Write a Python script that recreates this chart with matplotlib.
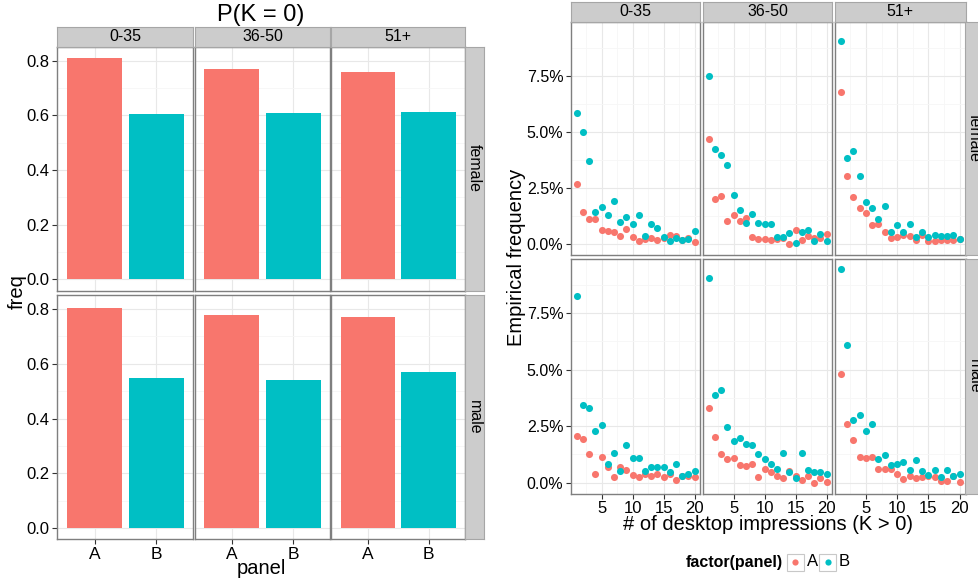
"""
plot.py

Nachbau der Facetten-Grafik:
  links:  P(K = 0) je Panel (A/B), Altersgruppe x Geschlecht
  rechts: empirische Haeufigkeit der Desktop-Impressions (K > 0)

Output: out.png
"""

import matplotlib
matplotlib.use("Agg")
import matplotlib.pyplot as plt
import matplotlib.ticker as mticker
from matplotlib.patches import Rectangle

plt.rcParams["font.family"] = ["Liberation Sans", "DejaVu Sans"]

W, H = 979, 582

# ── Daten ──────────────────────────────────────────────────────────────────────

AGE_GROUPS = ["0-35", "36-50", "51+"]
GENDERS    = ["female", "male"]
PANELS     = ["A", "B"]

# P(K = 0), je Altersgruppe [A, B]
p0_female = [[0.811, 0.605], [0.770, 0.609], [0.760, 0.613]]
p0_male   = [[0.804, 0.547], [0.778, 0.539], [0.771, 0.569]]

K = list(range(1, 21))

# Empirische Haeufigkeit in %, K = 1..20
A_female_035  = [2.69, 1.43, 1.14, 1.12, 0.64, 0.58, 0.56, 0.37, 0.68, 0.31,
                 0.15, 0.24, 0.28, 0.21, 0.30, 0.40, 0.37, 0.20, 0.27, 0.12]
B_female_035  = [5.83, 5.00, 3.73, 1.43, 1.66, 1.30, 1.91, 0.98, 1.24, 0.92,
                 1.30, 0.36, 0.89, 0.72, 0.33, 0.16, 0.27, 0.19, 0.22, 0.59]
A_female_3650 = [4.67, 2.04, 2.13, 1.02, 1.30, 1.02, 1.17, 0.31, 0.22, 0.22,
                 0.19, 0.25, 0.30, 0.01, 0.64, 0.18, 0.37, 0.27, 0.27, 0.46]
B_female_3650 = [7.47, 4.23, 3.98, 3.52, 2.20, 1.51, 0.93, 1.33, 0.93, 0.89,
                 0.90, 0.34, 0.31, 0.49, 0.06, 0.55, 0.62, 0.15, 0.44, 0.15]
A_female_51   = [6.78, 3.03, 2.10, 1.61, 1.38, 0.86, 0.92, 0.55, 0.28, 0.31,
                 0.40, 0.37, 0.19, 0.40, 0.15, 0.16, 0.20, 0.19, 0.19, 0.25]
B_female_51   = [9.04, 3.83, 4.14, 3.02, 1.88, 1.61, 1.15, 1.69, 0.55, 0.86,
                 0.53, 0.92, 0.31, 0.56, 0.33, 0.41, 0.37, 0.37, 0.41, 0.24]
A_male_035    = [2.06, 1.94, 1.25, 0.40, 1.12, 0.71, 0.27, 0.71, 0.55, 0.35,
                 0.24, 0.41, 0.28, 0.41, 0.24, 0.37, 0.13, 0.31, 0.32, 0.25]
B_male_035    = [8.26, 3.42, 3.29, 2.27, 2.55, 0.81, 1.30, 0.50, 1.65, 1.08,
                 1.08, 0.53, 0.72, 0.69, 0.69, 0.47, 0.81, 0.32, 0.40, 0.52]
A_male_3650   = [3.30, 2.03, 1.27, 1.05, 1.10, 0.77, 0.75, 0.85, 0.24, 0.63,
                 0.46, 0.32, 0.21, 0.53, 0.32, 0.13, 0.29, 0.01, 0.22, 0.04]
B_male_3650   = [9.05, 3.89, 4.08, 2.47, 1.84, 2.00, 1.71, 1.65, 1.28, 1.03,
                 0.81, 0.62, 1.30, 0.46, 0.21, 1.30, 0.55, 0.47, 0.47, 0.40]
A_male_51     = [4.82, 2.59, 1.90, 1.16, 1.10, 1.15, 0.62, 0.63, 0.59, 0.41,
                 0.16, 0.31, 0.22, 0.24, 0.28, 0.24, 0.10, 0.06, 0.28, 0.04]
B_male_51     = [9.43, 6.10, 2.78, 3.01, 2.27, 2.59, 1.05, 1.21, 0.77, 0.83,
                 0.93, 0.55, 1.02, 0.53, 0.35, 0.57, 0.24, 0.55, 0.31, 0.40]

P0 = {"female": p0_female, "male": p0_male}
EMP = {
    "female": [(A_female_035, B_female_035), (A_female_3650, B_female_3650),
               (A_female_51, B_female_51)],
    "male":   [(A_male_035, B_male_035), (A_male_3650, B_male_3650),
               (A_male_51, B_male_51)],
}

COL_A = "#F8766D"
COL_B = "#00BFC4"

# ── Helfer ─────────────────────────────────────────────────────────────────────

fig = plt.figure(figsize=(W / 100, H / 100), dpi=100)


def px_ax(x0, y0, x1, y1):
    return fig.add_axes([x0 / W, 1 - y1 / H, (x1 - x0) / W, (y1 - y0) / H])


def fig_text(x, y, s, **kw):
    fig.text(x / W, 1 - y / H, s, ha="center", va="center", **kw)


def style_panel(ax):
    ax.set_facecolor("white")
    for s in ax.spines.values():
        s.set_color("#7f7f7f")
        s.set_linewidth(1.0)
    ax.grid(which="major", color="#e8e8e8", linewidth=0.8)
    ax.grid(which="minor", color="#f6f6f6", linewidth=0.6)
    ax.set_axisbelow(True)
    ax.tick_params(which="major", length=3.5, width=0.8, color="#333333",
                   labelsize=11.5, pad=2, labelcolor="black")
    ax.tick_params(which="minor", length=0)


def strip(x0, y0, x1, y1, label, rot=0):
    ax = px_ax(x0, y0, x1, y1)
    ax.set_facecolor("#cccccc")
    ax.set_xticks([])
    ax.set_yticks([])
    for s in ax.spines.values():
        s.set_color("#a6a6a6")
        s.set_linewidth(0.8)
    ax.text(0.5, 0.5, label, transform=ax.transAxes, ha="center", va="center",
            rotation=rot, fontsize=11.5)
    return ax


# ── Links: P(K = 0) ────────────────────────────────────────────────────────────

L_COLS = [(57.5, 193.5), (195, 330), (331.5, 465)]
L_ROWS = [(46.5, 290.5), (295, 539)]

ymax_l = max(max(max(v) for v in P0[g]) for g in GENDERS)
ylim_l = (-0.05 * ymax_l, 1.05 * ymax_l)

for r, g in enumerate(GENDERS):
    for c, age in enumerate(AGE_GROUPS):
        x0, x1 = L_COLS[c]
        y0, y1 = L_ROWS[r]
        ax = px_ax(x0, y0, x1, y1)
        style_panel(ax)
        ax.bar(range(len(PANELS)), P0[g][c], width=0.9, color=[COL_A, COL_B])
        ax.set_xlim(-0.6, 1.6)
        ax.set_ylim(*ylim_l)
        ax.set_xticks(range(len(PANELS)))
        ax.yaxis.set_major_locator(mticker.MultipleLocator(0.2))
        ax.yaxis.set_minor_locator(mticker.MultipleLocator(0.1))
        ax.yaxis.set_major_formatter(mticker.FormatStrFormatter("%.1f"))
        ax.tick_params(axis="y", labelsize=12)
        if r == len(GENDERS) - 1:
            ax.set_xticklabels(PANELS, fontsize=12.5)
        else:
            ax.tick_params(axis="x", labelbottom=False, length=0)
        if c != 0:
            ax.tick_params(axis="y", labelleft=False, length=0)
        if r == 0:
            strip(x0, 27, x1, y0, age)
    strip(465, L_ROWS[r][0], 484.5, L_ROWS[r][1], g, rot=-90)

fig_text(261, 15, "P(K = 0)", fontsize=17)
fig_text(261, 569, "panel", fontsize=14.5)
fig_text(17, 292, "freq", fontsize=14.5, rotation=90)

# ── Rechts: empirische Haeufigkeit ─────────────────────────────────────────────

R_COLS = [(571, 700.5), (703, 832.5), (835, 965.5)]
R_ROWS = [(21.7, 255), (258.5, 493.5)]

ymax_r = max(max(max(a), max(b)) for g in GENDERS for a, b in EMP[g])
ylim_r = (-0.05 * ymax_r, 1.05 * ymax_r)
xlim_r = (1 - 0.05 * 19, 20 + 0.05 * 19)

for r, g in enumerate(GENDERS):
    for c, age in enumerate(AGE_GROUPS):
        x0, x1 = R_COLS[c]
        y0, y1 = R_ROWS[r]
        ax = px_ax(x0, y0, x1, y1)
        style_panel(ax)
        a_vals, b_vals = EMP[g][c]
        ax.scatter(K, a_vals, s=26, color=COL_A, linewidths=0, zorder=3)
        ax.scatter(K, b_vals, s=26, color=COL_B, linewidths=0, zorder=3)
        ax.set_xlim(*xlim_r)
        ax.set_ylim(*ylim_r)
        ax.set_xticks([5, 10, 15, 20])
        ax.xaxis.set_minor_locator(mticker.FixedLocator([2.5, 7.5, 12.5, 17.5]))
        ax.set_yticks([0, 2.5, 5, 7.5])
        ax.yaxis.set_minor_locator(mticker.FixedLocator([1.25, 3.75, 6.25, 8.75]))
        ax.yaxis.set_major_formatter(mticker.FuncFormatter(lambda v, p: f"{v:.1f}%"))
        if r == len(GENDERS) - 1:
            ax.tick_params(axis="x", labelsize=12)
        else:
            ax.tick_params(axis="x", labelbottom=False, length=0)
        if c != 0:
            ax.tick_params(axis="y", labelleft=False, length=0)
        if r == 0:
            strip(x0, 1.7, x1, y0, age)
    # Streifen rechts ist im Original am Bildrand abgeschnitten
    strip(965.5, R_ROWS[r][0], 984, R_ROWS[r][1], g, rot=-90)

fig_text(768, 524, "# of desktop impressions (K > 0)", fontsize=14.5)
fig_text(516, 257, "Empirical frequency", fontsize=14.5, rotation=90)

# ── Legende ────────────────────────────────────────────────────────────────────

leg = fig.add_axes([0, 0, 1, 1])
leg.set_xlim(0, W)
leg.set_ylim(H, 0)
leg.axis("off")
leg.patch.set_alpha(0)
leg.text(783, 562, "factor(panel)", ha="right", va="center",
         fontsize=11.5, fontweight="bold")
for i, (lab, col) in enumerate(zip(PANELS, [COL_A, COL_B])):
    bx = 787 + i * 32.5
    leg.add_patch(Rectangle((bx, 553.5), 17, 17, facecolor="white",
                            edgecolor="#c8c8c8", linewidth=0.8))
    leg.scatter([bx + 8.5], [562], s=20, color=col, linewidths=0)
    leg.text(bx + 19.5, 562, lab, ha="left", va="center", fontsize=12)

fig.savefig("out.png", dpi=100)
